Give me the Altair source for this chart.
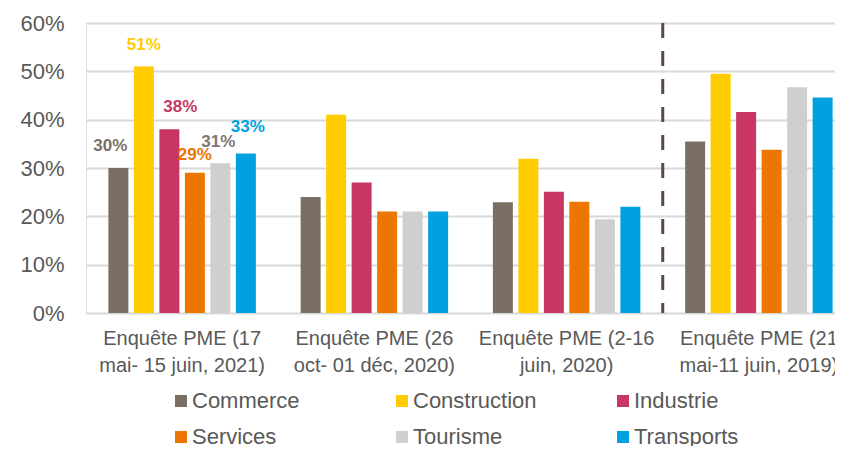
import altair as alt
import pandas as pd

surveys = [
    "Enquête PME (17\nmai- 15 juin, 2021)",
    "Enquête PME (26\noct- 01 déc, 2020)",
    "Enquête PME (2-16\njuin, 2020)",
    "Enquête PME (21\nmai-11 juin, 2019)",
]
sectors = ["Commerce", "Construction", "Industrie", "Services", "Tourisme", "Transports"]

commerce = [0.30, 0.24, 0.229, 0.355]
construction = [0.51, 0.41, 0.319, 0.495]
industrie = [0.38, 0.27, 0.251, 0.416]
services = [0.29, 0.21, 0.23, 0.338]
tourisme = [0.31, 0.21, 0.194, 0.467]
transports = [0.33, 0.21, 0.22, 0.446]

bar_colors = ["#7b6f64", "#ffcc00", "#c83763", "#ec7700", "#d0cfcf", "#00a1e0"]
label_colors = ["#7b6f64", "#ffcc00", "#c83763", "#ec7700", "#7f7770", "#00a1e0"]

# small manual nudges of the first-group value labels (dx, dy), as in the reference
label_nudges = {
    "Commerce": (-8, -22),
    "Construction": (0, -22),
    "Industrie": (11, -22),
    "Services": (0, -18),
    "Tourisme": (-2, -21),
    "Transports": (2, -27),
}

series = [commerce, construction, industrie, services, tourisme, transports]
rows = []
for s, vals in zip(sectors, series):
    for sv, v in zip(surveys, vals):
        rows.append({"survey": sv, "sector": s, "value": v})
df = pd.DataFrame(rows)

FONT = "Liberation Sans"

x_enc = alt.X(
    "survey:N",
    sort=surveys,
    scale=alt.Scale(range=[0, 769], paddingInner=0, paddingOuter=0),
    axis=alt.Axis(
        title=None,
        labelExpr="split(datum.label, '\\n')",
        labelAngle=0,
        labelFontSize=20,
        labelColor="#595959",
        labelLineHeight=27,
        labelPadding=15,
        labelLimit=0,
        labelOverlap=False,
        ticks=False,
        domain=False,
        labelFont=FONT,
    ),
)
xoff_enc = alt.XOffset(
    "sector:N", sort=sectors, scale=alt.Scale(paddingInner=0.216, paddingOuter=0.878)
)
y_enc = alt.Y(
    "value:Q",
    scale=alt.Scale(domain=[0, 0.6]),
    axis=alt.Axis(
        title=None,
        format=".0%",
        values=[0, 0.1, 0.2, 0.3, 0.4, 0.5, 0.6],
        labelFontSize=22,
        labelColor="#595959",
        labelPadding=22,
        labelFont=FONT,
        ticks=False,
        domain=False,
        gridColor="#d9d9d9",
        gridWidth=2,
    ),
)

bars = alt.Chart(df).mark_bar().encode(
    x=x_enc,
    xOffset=xoff_enc,
    y=y_enc,
    color=alt.Color(
        "sector:N",
        sort=sectors,
        scale=alt.Scale(domain=sectors, range=bar_colors),
        legend=alt.Legend(
            orient="none",
            legendX=84,
            legendY=367,
            direction="horizontal",
            columns=3,
            title=None,
            padding=0,
            symbolType="square",
            symbolSize=144,
            symbolStrokeWidth=0,
            symbolOpacity=1,
            labelFontSize=22,
            labelColor="#595959",
            labelFont=FONT,
            labelOffset=0,
            columnPadding=75,
            rowPadding=14,
            gridAlign="all",
        ),
    ),
)

rule_df = pd.DataFrame({"survey": [surveys[3]]})
rule = alt.Chart(rule_df).mark_rule(
    color="#5a4a46", strokeWidth=3, strokeDash=[15, 13]
).encode(
    x=alt.X("survey:N", sort=surveys, bandPosition=0),
    y=alt.datum(0.6),
    y2=alt.datum(0),
)

first = df[df["survey"] == surveys[0]]
label_layers = []
for s, col in zip(sectors, label_colors):
    dx, dy = label_nudges[s]
    label_layers.append(
        alt.Chart(first[first["sector"] == s]).mark_text(
            fontSize=17, fontWeight="bold", dx=dx, dy=dy, font=FONT, color=col
        ).encode(
            x=alt.X("survey:N", sort=surveys),
            xOffset=alt.XOffset("sector:N", sort=sectors),
            y=alt.Y("value:Q"),
            text=alt.Text("value:Q", format=".0%"),
        )
    )

chart = (
    alt.layer(bars, rule, *label_layers)
    .properties(
        width=749,
        height=290,
        autosize=alt.AutoSizeParams(type="none"),
        padding={"left": 78, "top": 15, "right": 0, "bottom": 133},
    )
    .configure_view(stroke=None)
    .configure(font=FONT)
)

chart.save("out.html", embed_options={"renderer": "svg", "actions": False})
